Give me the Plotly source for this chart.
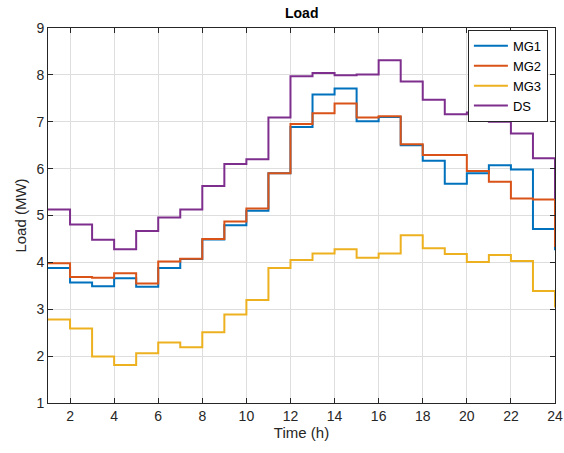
import plotly.graph_objects as go

# Hourly load profiles (MW), hours 1..24
hours = list(range(1, 25))
mg1 = [3.88, 3.57, 3.49, 3.66, 3.48, 3.88, 4.07, 4.49, 4.79, 5.10, 5.90, 6.89,
       7.58, 7.71, 7.01, 7.10, 6.50, 6.17, 5.68, 5.90, 6.07, 5.98, 4.71, 4.26]
mg2 = [3.98, 3.69, 3.67, 3.77, 3.55, 4.02, 4.08, 4.50, 4.87, 5.15, 5.90, 6.95,
       7.18, 7.39, 7.09, 7.12, 6.52, 6.29, 6.29, 5.95, 5.72, 5.36, 5.34, 4.33]
mg3 = [2.78, 2.59, 1.99, 1.81, 2.06, 2.29, 2.19, 2.51, 2.89, 3.20, 3.88, 4.05,
       4.19, 4.28, 4.10, 4.19, 4.58, 4.30, 4.18, 4.01, 4.16, 4.03, 3.39, 3.04]
ds = [5.13, 4.81, 4.48, 4.28, 4.67, 4.96, 5.13, 5.63, 6.10, 6.20, 7.09, 7.97,
      8.04, 7.99, 8.01, 8.31, 7.86, 7.47, 7.16, 7.20, 7.00, 6.75, 6.22, 5.35]

series = [("MG1", mg1, "#0072BD"), ("MG2", mg2, "#D95319"),
          ("MG3", mg3, "#EDB120"), ("DS", ds, "#7E2F8E")]

x_ticks = list(range(2, 25, 2))
y_ticks = list(range(1, 10))

fig = go.Figure()
for name, vals, color in series:
    fig.add_trace(go.Scatter(
        x=hours, y=vals, name=name, mode="lines",
        line=dict(color=color, width=2, shape="hv"),
    ))

axis_common = dict(
    showline=True, linecolor="#262626", linewidth=1, mirror="allticks",
    ticks="inside", ticklen=5, tickcolor="#262626",
    showgrid=True, gridcolor="#dedede", gridwidth=1, zeroline=False,
    tickfont=dict(size=14, color="#262626"), automargin=False,
)

fig.update_layout(
    width=564, height=453,
    margin=dict(l=48, r=9, t=28, b=50),
    paper_bgcolor="white", plot_bgcolor="white",
    font=dict(family="Liberation Sans, Arial, sans-serif", color="#262626"),
    title=dict(text="<b>Load</b>", x=0.535, xanchor="center", y=0.972,
               yanchor="middle", font=dict(size=14, color="#000000")),
    xaxis=dict(range=[1, 24], tickvals=x_ticks,
               title=dict(text="Time (h)", font=dict(size=15), standoff=4),
               **axis_common),
    yaxis=dict(range=[1, 9], tickvals=y_ticks,
               title=dict(text="Load (MW)", font=dict(size=15), standoff=6),
               **axis_common),
    legend=dict(x=0.986, y=0.995, xanchor="right", yanchor="top",
                bgcolor="white", bordercolor="#262626", borderwidth=1,
                font=dict(size=13, color="#000000"), itemwidth=34,
                tracegroupgap=0),
    showlegend=True,
)

fig.write_html("out.html")
